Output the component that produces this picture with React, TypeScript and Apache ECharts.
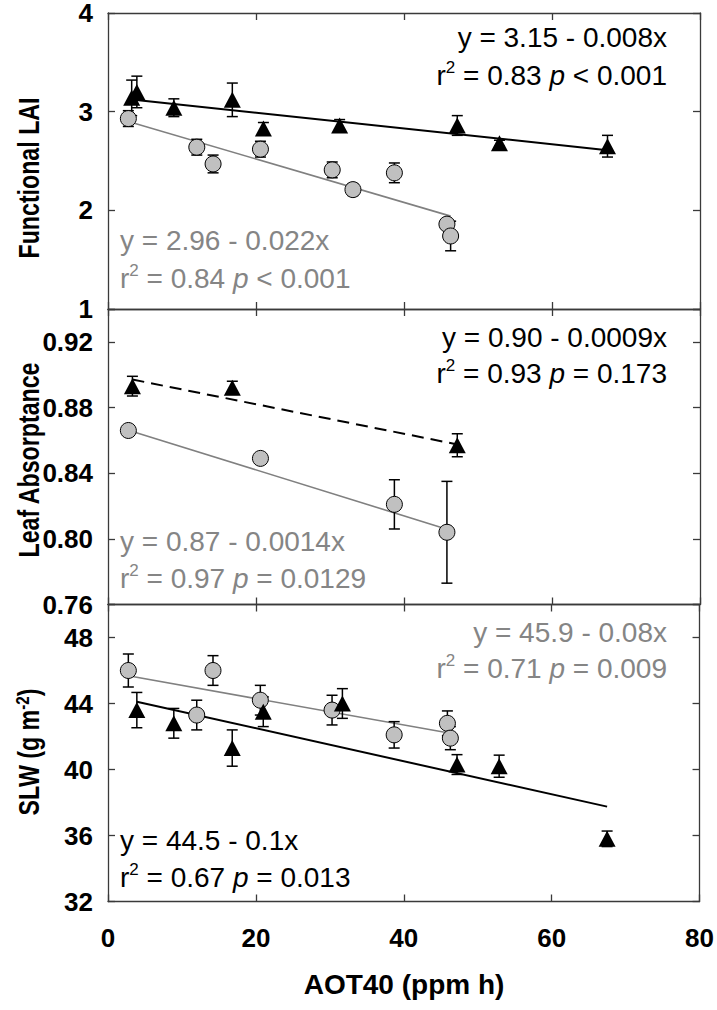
import React, { useEffect, useRef } from "react";
import * as echarts from "echarts";

// ---------- data ----------
const xTicks = [0, 20, 40, 60, 80];

// Panel 1: Functional LAI
const laiTriX = [3.2, 3.9, 8.9, 16.8, 21.0, 31.3, 47.2, 52.9, 67.5];
const laiTriY = [3.14, 3.2, 3.04, 3.12, 2.83, 2.86, 2.86, 2.68, 2.65];
const laiTriErr = [0.18, 0.16, 0.09, 0.17, 0.06, 0.06, 0.1, 0.03, 0.11];
const laiCirX = [2.75, 12.0, 14.2, 20.6, 30.3, 33.1, 38.7, 45.8, 46.3];
const laiCirY = [2.93, 2.64, 2.47, 2.62, 2.41, 2.21, 2.38, 1.86, 1.74];
const laiCirErr = [0.08, 0.08, 0.09, 0.08, 0.08, 0.06, 0.1, 0.05, 0.15];

// Panel 2: Leaf Absorptance
const absTriX = [3.3, 16.8, 47.2];
const absTriY = [0.893, 0.892, 0.857];
const absTriErr = [0.006, 0.004, 0.007];
const absCirX = [2.75, 20.6, 38.7, 45.8];
const absCirY = [0.866, 0.849, 0.821, 0.804];
const absCirErr = [0, 0, 0.015, 0.031];

// Panel 3: SLW
const slwTriX = [3.9, 8.9, 16.8, 21.0, 31.7, 47.2, 52.9, 67.5];
const slwTriY = [43.6, 42.8, 41.3, 43.5, 44.0, 40.3, 40.2, 35.8];
const slwTriErr = [1.07, 0.9, 1.1, 0.9, 0.9, 0.6, 0.67, 0.47];
const slwCirX = [2.75, 12.0, 14.2, 20.6, 30.3, 38.7, 45.9, 46.3];
const slwCirY = [46.0, 43.3, 46.0, 44.2, 43.6, 42.1, 42.8, 41.9];
const slwCirErr = [1.0, 0.9, 0.9, 0.9, 0.9, 0.8, 0.75, 0.7];

// Regression fits: [intercept, slope]
const laiBlackFit = [3.15, -0.008];
const laiGrayFit = [2.96, -0.022];
const absBlackFit = [0.9, -0.0009];
const absGrayFit = [0.87, -0.0014];
const slwBlackFit = [44.5, -0.1];
const slwGrayFit = [45.9, -0.08];

// y-axis ranges [min, max, interval]
const laiRange = [1, 4, 1];
const absRange = [0.76, 0.94, 0.04];
const slwRange = [32, 50, 4];

// Texts
const yTitles = ["Functional LAI", "Leaf Absorptance"];
const xTitle = "AOT40 (ppm h)";
const eqTexts = {
  laiBlack: ["y = 3.15 - 0.008x", "0.83", "< 0.001"],
  laiGray: ["y = 2.96 - 0.022x", "0.84", "< 0.001"],
  absBlack: ["y = 0.90 - 0.0009x", "0.93", "= 0.173"],
  absGray: ["y = 0.87 - 0.0014x", "0.97", "= 0.0129"],
  slwGray: ["y = 45.9 - 0.08x", "0.71", "= 0.009"],
  slwBlack: ["y = 44.5 - 0.1x", "0.67", "= 0.013"],
};

// ---------- style ----------
const FONT = "'Liberation Sans', Arial, Helvetica, sans-serif";
const AX = "#3a3a3a";
const GRAY_TXT = "#858585";
const GRAY_LINE = "#808080";
const CIRCLE_FILL = "#c0c0c0";

const zip = (xs: number[], ys: number[], es?: number[]) =>
  xs.map((x, i) => (es ? [x, ys[i], es[i]] : [x, ys[i]]));

const fitLine = (fit: number[], xs: number[]) => {
  const x0 = Math.min(...xs);
  const x1 = Math.max(...xs);
  return [
    [x0, fit[0] + fit[1] * x0],
    [x1, fit[0] + fit[1] * x1],
  ];
};

export default function App() {
  const ref = useRef<HTMLDivElement>(null);

  useEffect(() => {
    if (!ref.current) return;
    document.body.style.margin = "0";
    const chart = echarts.init(ref.current, undefined, { renderer: "svg" });

    const grids = [
      { left: 108, top: 12.5, width: 592, height: 296.5 },
      { left: 108, top: 309, width: 592, height: 295.5 },
      { left: 108, top: 604.5, width: 592, height: 297 },
    ];

    const lineStyle = { color: AX, width: 1.3 };
    const tickLabel = {
      fontFamily: FONT,
      fontWeight: "bold" as const,
      fontSize: 26,
      lineHeight: 22,
      color: "#000",
    };

    const xAxes: any[] = [];
    const yAxes: any[] = [];
    const ranges = [laiRange, absRange, slwRange];
    const fmts = [
      (v: number) => (v > 4.001 ? "" : String(Math.round(v))),
      (v: number) => (v > 0.925 ? "" : v.toFixed(2)),
      (v: number) => (v > 48.5 ? "" : String(Math.round(v))),
    ];
    grids.forEach((_, g) => {
      ["bottom", "top"].forEach((pos) => {
        xAxes.push({
          type: "value",
          gridIndex: g,
          position: pos,
          min: xTicks[0],
          max: xTicks[xTicks.length - 1],
          interval: xTicks[1] - xTicks[0],
          axisLine: { show: true, onZero: false, lineStyle },
          axisTick: { show: true, inside: true, length: 7, lineStyle },
          axisLabel: {
            show: g === 2 && pos === "bottom",
            margin: 25,
            ...tickLabel,
          },
          splitLine: { show: false },
        });
      });
      ["left", "right"].forEach((pos) => {
        const r = ranges[g];
        yAxes.push({
          type: "value",
          gridIndex: g,
          position: pos,
          min: r[0],
          max: r[1],
          interval: r[2],
          axisLine: { show: true, onZero: false, lineStyle },
          axisTick: { show: true, inside: true, length: 7, lineStyle },
          axisLabel: {
            show: pos === "left",
            margin: 15,
            formatter: fmts[g],
            ...tickLabel,
          },
          splitLine: { show: false },
        });
      });
    });

    const errSeries = (g: number, data: number[][]) => ({
      type: "custom",
      xAxisIndex: g * 2,
      yAxisIndex: g * 2,
      clip: false,
      silent: true,
      z: 3,
      data,
      encode: { x: 0, y: 1 },
      renderItem: (params: any, api: any) => {
        const x = api.value(0);
        const y = api.value(1);
        const e = api.value(2);
        if (!e) return { type: "group", children: [] };
        const p1 = api.coord([x, y + e]);
        const p2 = api.coord([x, y - e]);
        const st = { stroke: "#000", lineWidth: 1.5 };
        return {
          type: "group",
          children: [
            { type: "line", shape: { x1: p1[0], y1: p1[1], x2: p2[0], y2: p2[1] }, style: st },
            { type: "line", shape: { x1: p1[0] - 5.5, y1: p1[1], x2: p1[0] + 5.5, y2: p1[1] }, style: st },
            { type: "line", shape: { x1: p2[0] - 5.5, y1: p2[1], x2: p2[0] + 5.5, y2: p2[1] }, style: st },
          ],
        };
      },
    });

    const fitSeries = (g: number, data: number[][], color: string, width: number, dashed = false) => ({
      type: "line",
      xAxisIndex: g * 2,
      yAxisIndex: g * 2,
      data,
      symbol: "none",
      silent: true,
      z: 2,
      lineStyle: { color, width, type: dashed ? [12, 7] : "solid" },
    });

    const cirSeries = (g: number, data: number[][]) => ({
      type: "scatter",
      xAxisIndex: g * 2,
      yAxisIndex: g * 2,
      data,
      symbol: "circle",
      symbolSize: 16,
      z: 4,
      itemStyle: { color: CIRCLE_FILL, borderColor: "#000", borderWidth: 1, opacity: 1 },
    });

    const triSeries = (g: number, data: number[][]) => ({
      type: "scatter",
      xAxisIndex: g * 2,
      yAxisIndex: g * 2,
      data,
      symbol: "triangle",
      symbolSize: [17, 16],
      z: 5,
      itemStyle: { color: "#000", opacity: 1 },
    });

    const series = [
      fitSeries(0, fitLine(laiGrayFit, laiCirX), GRAY_LINE, 1.6),
      fitSeries(0, fitLine(laiBlackFit, laiTriX), "#000", 2),
      errSeries(0, zip(laiCirX, laiCirY, laiCirErr)),
      errSeries(0, zip(laiTriX, laiTriY, laiTriErr)),
      cirSeries(0, zip(laiCirX, laiCirY)),
      triSeries(0, zip(laiTriX, laiTriY)),

      fitSeries(1, fitLine(absGrayFit, absCirX), GRAY_LINE, 1.6),
      fitSeries(1, fitLine(absBlackFit, absTriX), "#000", 2, true),
      errSeries(1, zip(absCirX, absCirY, absCirErr)),
      errSeries(1, zip(absTriX, absTriY, absTriErr)),
      cirSeries(1, zip(absCirX, absCirY)),
      triSeries(1, zip(absTriX, absTriY)),

      fitSeries(2, fitLine(slwGrayFit, slwCirX), GRAY_LINE, 1.6),
      fitSeries(2, fitLine(slwBlackFit, slwTriX), "#000", 2),
      errSeries(2, zip(slwCirX, slwCirY, slwCirErr)),
      errSeries(2, zip(slwTriX, slwTriY, slwTriErr)),
      cirSeries(2, zip(slwCirX, slwCirY)),
      triSeries(2, zip(slwTriX, slwTriY)),
    ];

    const EQ_FS = 28;
    const richFor = (color: string) => ({
      n: { fontFamily: FONT, fontSize: EQ_FS, fill: color, lineHeight: 32, verticalAlign: "middle" },
      i: { fontFamily: FONT, fontSize: EQ_FS, fill: color, fontStyle: "italic", lineHeight: 32, verticalAlign: "middle" },
      s: { fontFamily: FONT, fontSize: 17, fill: color, lineHeight: 21, verticalAlign: "top" },
    });

    const eq = (t: string[], color: string, x: number, y1: number, y2: number, align: string) => [
      {
        type: "text",
        x,
        y: y1,
        z: 10,
        style: {
          text: t[0],
          fontFamily: FONT,
          fontSize: EQ_FS,
          fill: color,
          align,
          verticalAlign: "middle",
        },
      },
      {
        type: "text",
        x,
        y: y2,
        z: 10,
        style: {
          text: `{n|r}{s|2}{n| = ${t[1]} }{i|p}{n| ${t[2]}}`,
          rich: richFor(color),
          align,
          verticalAlign: "middle",
        },
      },
    ];

    const titleStyle = {
      fontFamily: FONT,
      fontWeight: "bold",
      fontSize: 28,
      fill: "#000",
      align: "center",
      verticalAlign: "middle",
    };
    const yTitleStyle = { ...titleStyle, fontSize: 29 };
    const SQ = 0.8; // condensed look of the y titles

    const graphic: any[] = [
      ...eq(eqTexts.laiBlack, "#000", 667, 37, 75, "right"),
      ...eq(eqTexts.laiGray, GRAY_TXT, 120, 240, 278, "left"),
      ...eq(eqTexts.absBlack, "#000", 667, 337, 373, "right"),
      ...eq(eqTexts.absGray, GRAY_TXT, 120, 541, 578, "left"),
      ...eq(eqTexts.slwGray, GRAY_TXT, 667, 632, 668, "right"),
      ...eq(eqTexts.slwBlack, "#000", 120, 840, 877, "left"),
      { type: "text", x: 29, y: 178, rotation: Math.PI / 2, scaleX: SQ, style: { text: yTitles[0], ...yTitleStyle } },
      { type: "text", x: 29, y: 460, rotation: Math.PI / 2, scaleX: SQ, style: { text: yTitles[1], ...yTitleStyle } },
      {
        type: "text",
        x: 29,
        y: 752,
        rotation: Math.PI / 2,
        scaleX: SQ,
        style: {
          text: "{b|SLW (g m}{s|-2}{b|)}",
          align: "center",
          verticalAlign: "middle",
          rich: {
            b: { fontFamily: FONT, fontWeight: "bold", fontSize: 29, fill: "#000", lineHeight: 32, verticalAlign: "middle" },
            s: { fontFamily: FONT, fontWeight: "bold", fontSize: 19, fill: "#000", lineHeight: 22, verticalAlign: "top" },
          },
        },
      },
      { type: "text", x: 404, y: 984, style: { text: xTitle, ...titleStyle } },
    ];

    chart.setOption({
      animation: false,
      backgroundColor: "#fff",
      grid: grids,
      xAxis: xAxes,
      yAxis: yAxes,
      series,
      graphic,
    });

    return () => chart.dispose();
  }, []);

  return <div ref={ref} style={{ width: 717, height: 1010, position: "absolute", left: 0, top: 0 }} />;
}
